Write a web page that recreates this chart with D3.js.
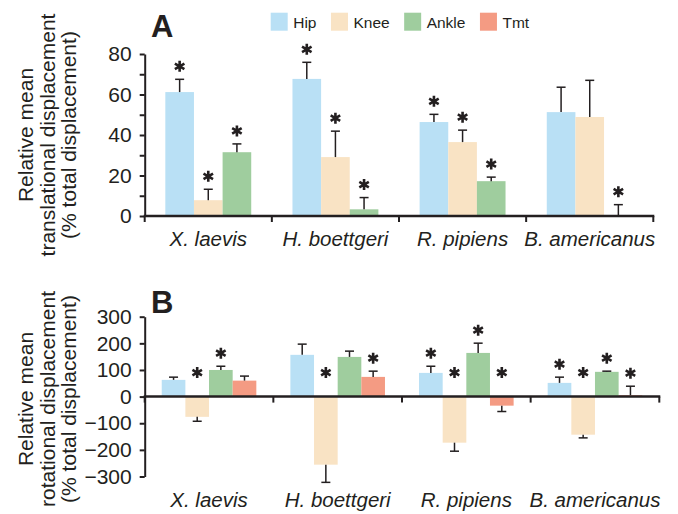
<!DOCTYPE html>
<html lang="en">
<head>
<meta charset="utf-8">
<title>Joint displacement</title>
<script src="https://cdn.jsdelivr.net/npm/d3@7/dist/d3.min.js"></script>
<style>
  body { margin: 0; background: #fff; }
  svg { font-family: "Liberation Sans", Arial, Helvetica, sans-serif; }
  text { fill: #231f20; }
</style>
</head>
<body>
<div id="bod"></div>
<script>
// categories
const species = ["X. laevis", "H. boettgeri", "R. pipiens", "B. americanus"];
const joints = ["Hip", "Knee", "Ankle", "Tmt"];

// panel A: relative mean translational displacement (% total), value + error
const transHip = [61.2, 67.7, 46.4, 51.3];
const transHipErr = [6.3, 8.2, 3.8, 12.3];
const transKnee = [7.8, 29.1, 36.5, 48.9];
const transKneeErr = [5.4, 12.8, 5.9, 18.1];
const transAnkle = [31.5, 3.3, 17.2, 0];
const transAnkleErr = [4.1, 5.8, 2.0, 5.6];
const transSig = { Hip: [1, 1, 1, 0], Knee: [1, 1, 1, 0], Ankle: [1, 1, 1, 1] };
const transTicks = [0, 10, 20, 30, 40, 50, 60, 70, 80];

// panel B: relative mean rotational displacement (% total)
const rotHip = [62.8, 156.8, 89, 51.5];
const rotHipErr = [10.2, 40.2, 25, 21.5];
const rotKnee = [-76, -255.6, -173, -143];
const rotKneeErr = [16.6, 66.4, 32, 12];
const rotAnkle = [100, 149, 164, 93];
const rotAnkleErr = [14, 21.7, 36.6, 2.5];
const rotTmt = [60, 74, -34, 5];
const rotTmtErr = [17, 21.5, 22, 34];
const rotSig = { Hip: [0, 0, 1, 1], Knee: [1, 1, 1, 1], Ankle: [1, 0, 1, 1], Tmt: [0, 1, 1, 1] };
const rotTicks = [-300, -200, -100, 0, 100, 200, 300];

const colors = d3.scaleOrdinal()
                 .domain(joints)
                 .range(["#b9e0f5", "#f9e3c4", "#9fcd9e", "#f49b83"]);

const ink = "#231f20";
const w = 678, h = 514;

const svg = d3.select("#bod")
              .append("svg")
              .attr("width", w)
              .attr("height", h);

function rows(series) {
  // series: [{joint, vals, errs, sig}]
  let out = [];
  series.forEach(function(s) {
    species.forEach(function(sp, i) {
      out.push({ species: sp, joint: s.joint, value: s.vals[i], err: s.errs[i], sig: s.sig[i] });
    });
  });
  return out;
}

function drawPanel(opt) {
  let data = rows(opt.series);
  let keys = opt.series.map(function(s) { return s.joint; });

  let x0 = d3.scaleBand()
             .domain(species)
             .range([opt.left, opt.right]);

  let x1 = d3.scaleBand()
             .domain(keys)
             .range([0, x0.bandwidth()])
             .paddingOuter(0.72);

  let y = d3.scaleLinear()
            .domain(opt.domain)
            .range([opt.bottom, opt.top]);

  let g = svg.append("g");

  // bars
  g.selectAll("rect.bar")
   .data(data)
   .join("rect")
   .attr("class", "bar")
   .attr("x", function(d) { return x0(d.species) + x1(d.joint); })
   .attr("width", x1.bandwidth())
   .attr("y", function(d) { return y(Math.max(0, d.value)); })
   .attr("height", function(d) { return Math.abs(y(d.value) - y(0)); })
   .attr("fill", function(d) { return colors(d.joint); });

  // error bars
  let cx = function(d) { return x0(d.species) + x1(d.joint) + x1.bandwidth() / 2; };
  let tip = function(d) { return d.value < 0 ? d.value - d.err : d.value + d.err; };

  g.selectAll("line.err")
   .data(data)
   .join("line")
   .attr("class", "err")
   .attr("x1", cx).attr("x2", cx)
   .attr("y1", function(d) { return y(d.value); })
   .attr("y2", function(d) { return y(tip(d)); })
   .attr("stroke", ink)
   .attr("stroke-width", 1.5);

  g.selectAll("line.cap")
   .data(data)
   .join("line")
   .attr("class", "cap")
   .attr("x1", function(d) { return cx(d) - 4.5; })
   .attr("x2", function(d) { return cx(d) + 4.5; })
   .attr("y1", function(d) { return y(tip(d)); })
   .attr("y2", function(d) { return y(tip(d)); })
   .attr("stroke", ink)
   .attr("stroke-width", 1.5);

  // significance stars
  let star = d3.symbol(d3.symbolAsterisk, 85);
  g.selectAll("path.star")
   .data(data.filter(function(d) { return d.sig; }))
   .join("path")
   .attr("class", "star")
   .attr("d", star)
   .attr("fill", "none")
   .attr("stroke", ink)
   .attr("stroke-width", 2.6)
   .attr("transform", function(d) {
     let sy = d.value < 0 ? y(0) - 24 : y(tip(d)) - 13;
     return "translate(" + cx(d) + "," + sy + ")";
   });

  // y axis
  let yAxis = d3.axisLeft(y)
                .tickValues(opt.ticks)
                .tickSize(5)
                .tickSizeOuter(0)
                .tickPadding(8)
                .tickFormat(opt.fmt);

  let ya = g.append("g")
            .attr("transform", "translate(" + opt.left + ",0)")
            .call(yAxis);
  ya.selectAll("path, line").attr("stroke", ink).attr("stroke-width", 2);
  ya.selectAll("text").attr("font-size", 21).attr("fill", ink).attr("font-family", null);

  // x axis line with ticks at group boundaries
  let xa = g.append("g").attr("class", "x axis");
  xa.append("line")
    .attr("x1", opt.left - 1).attr("x2", opt.right + 1)
    .attr("y1", y(0)).attr("y2", y(0))
    .attr("stroke", ink).attr("stroke-width", 2.5);
  xa.selectAll("line.tk")
    .data(species.map(function(s) { return x0(s); }).concat([opt.right]))
    .join("line")
    .attr("class", "tk")
    .attr("x1", function(d) { return d; }).attr("x2", function(d) { return d; })
    .attr("y1", y(0)).attr("y2", y(0) + 6)
    .attr("stroke", ink).attr("stroke-width", 2);

  // category labels
  let lab = g.append("g")
             .attr("transform", "translate(0," + opt.labelY + ")")
             .call(d3.axisBottom(x0).tickSize(0).tickPadding(0));
  lab.select(".domain").remove();
  lab.selectAll("text")
     .attr("font-size", 20.5)
     .attr("font-style", "italic")
     .attr("fill", ink)
     .attr("font-family", null);

  // axis title
  let title = g.append("text")
               .attr("transform", "rotate(-90)")
               .attr("text-anchor", "middle")
               .attr("font-size", 21);
  opt.title.forEach(function(t, i) {
    title.append("tspan")
         .attr("x", -opt.titleY)
         .attr("y", 33 + i * 21.5)
         .text(t);
  });

  // panel letter
  g.append("text")
   .attr("x", 151)
   .attr("y", opt.letterY)
   .attr("font-size", 31)
   .attr("font-weight", "bold")
   .text(opt.letter);
}

drawPanel({
  series: [
    { joint: "Hip", vals: transHip, errs: transHipErr, sig: transSig.Hip },
    { joint: "Knee", vals: transKnee, errs: transKneeErr, sig: transSig.Knee },
    { joint: "Ankle", vals: transAnkle, errs: transAnkleErr, sig: transSig.Ankle }
  ],
  domain: [0, 80], top: 54, bottom: 216,
  left: 144.7, right: 653.3,
  ticks: transTicks,
  fmt: function(d) { return d % 20 === 0 ? d : ""; },
  labelY: 231,
  title: ["Relative mean", "translational displacement", "(% total displacement)"],
  titleY: 135,
  letter: "A", letterY: 37
});

drawPanel({
  series: [
    { joint: "Hip", vals: rotHip, errs: rotHipErr, sig: rotSig.Hip },
    { joint: "Knee", vals: rotKnee, errs: rotKneeErr, sig: rotSig.Knee },
    { joint: "Ankle", vals: rotAnkle, errs: rotAnkleErr, sig: rotSig.Ankle },
    { joint: "Tmt", vals: rotTmt, errs: rotTmtErr, sig: rotSig.Tmt }
  ],
  domain: [-300, 300], top: 316.7, bottom: 476.5,
  left: 144.7, right: 659.3,
  ticks: rotTicks,
  fmt: d3.format("d"),
  labelY: 492,
  title: ["Relative mean", "rotational displacement", "(% total displacement)"],
  titleY: 399,
  letter: "B", letterY: 313
});

// legend
let leg = svg.append("g").attr("class", "legend");
let lx = 270.7;
joints.forEach(function(j) {
  leg.append("rect")
     .attr("x", lx).attr("y", 12.7)
     .attr("width", 17).attr("height", 18)
     .attr("fill", colors(j));
  let t = leg.append("text")
             .attr("x", lx + 22.5).attr("y", 28)
             .attr("font-size", 15.5)
             .text(j);
  lx = lx + 22.5 + t.node().getComputedTextLength() + 14.5;
});
</script>
</body>
</html>
